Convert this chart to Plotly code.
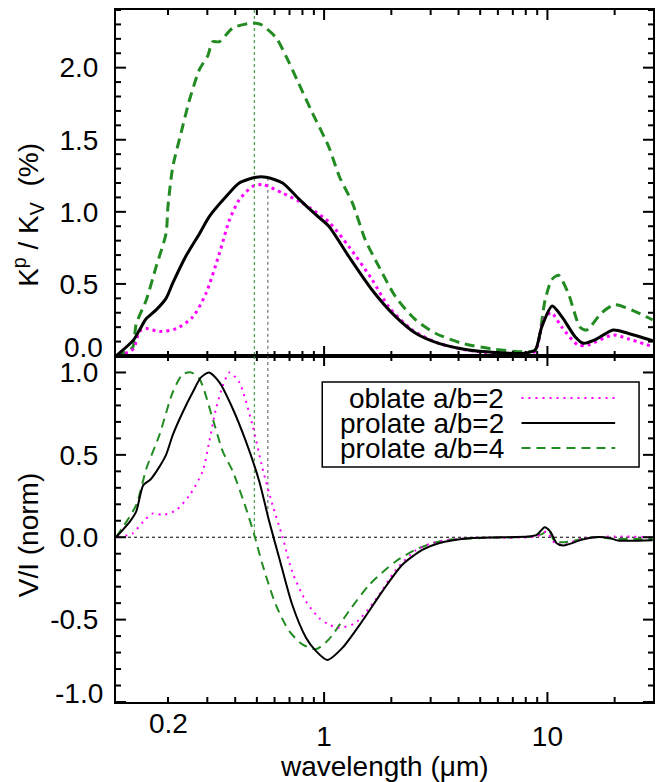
import math
import plotly.graph_objects as go

# ---------------- data ----------------
top_oblate2_lam = [0.12, 0.14, 0.149, 0.16, 0.183, 0.218, 0.258, 0.296, 0.34, 0.377, 0.417, 0.478, 0.53,
                   0.652, 0.80, 1.05, 1.29, 1.64, 1.95, 2.48, 3.26, 4.4, 5.84, 7.67, 8.8, 9.6, 10.4, 11.6,
                   13.7, 15.2, 19.7, 22.9, 29.6]
top_oblate2_val = [0.0, 0.05, 0.17, 0.19, 0.17, 0.19, 0.27, 0.435, 0.713, 0.944, 1.083, 1.176, 1.19,
                   1.13, 1.06, 0.93, 0.76, 0.53, 0.34, 0.18, 0.088, 0.04, 0.02, 0.018, 0.03, 0.25, 0.30, 0.20,
                   0.076, 0.076, 0.146, 0.12, 0.065]

top_prolate2_lam = [0.117, 0.14, 0.149, 0.16, 0.177, 0.196, 0.21, 0.24, 0.277, 0.306, 0.364, 0.417, 0.496,
                    0.55, 0.652, 0.77, 0.918, 1.05, 1.29, 1.64, 2.09, 2.57, 3.26, 4.44, 5.84, 7.67, 8.8,
                    9.42, 10.5, 11.6, 13.3, 14.5, 16.3, 19.7, 22.9, 29.6]
top_prolate2_val = [0.0, 0.11, 0.18, 0.26, 0.32, 0.40, 0.505, 0.69, 0.85, 0.967, 1.106, 1.20, 1.24,
                    1.24, 1.20, 1.09, 0.98, 0.90, 0.69, 0.458, 0.273, 0.158, 0.088, 0.042, 0.025, 0.018, 0.04,
                    0.20, 0.347, 0.273, 0.134, 0.088, 0.111, 0.18, 0.158, 0.106]

top_prolate4_lam = [0.117, 0.13, 0.139, 0.144, 0.16, 0.177, 0.196, 0.20, 0.21, 0.229, 0.25, 0.277, 0.301,
                    0.317, 0.34, 0.39, 0.478, 0.52, 0.608, 0.675, 0.77, 0.887, 1.05, 1.17, 1.34, 1.53, 1.76,
                    2.09, 2.57, 3.15, 4.14, 5.84, 7.67, 8.8, 9.77, 10.46, 11.2, 12.4, 14.0, 15.0, 17.5, 20.0,
                    24.6, 29.6]
top_prolate4_val = [0.0, 0.03, 0.06, 0.22, 0.39, 0.62, 0.85, 1.04, 1.31, 1.55, 1.78, 1.99, 2.08,
                    2.18, 2.18, 2.275, 2.31, 2.30, 2.21, 2.08, 1.89, 1.685, 1.45, 1.245, 1.06, 0.805, 0.62,
                    0.41, 0.25, 0.158, 0.088, 0.046, 0.03, 0.04, 0.39, 0.53, 0.56, 0.435, 0.20, 0.18, 0.30, 0.355,
                    0.31, 0.25]

bot_oblate2_lam = [0.12, 0.139, 0.155, 0.171, 0.19, 0.218, 0.25, 0.286, 0.306, 0.328, 0.352, 0.377, 0.417,
                   0.478, 0.53, 0.588, 0.652, 0.72, 0.83, 0.95, 1.05, 1.17, 1.38, 1.70, 2.09, 2.57, 3.15,
                   4.5, 9.0, 9.9, 10.8, 11.97, 14.0, 20.0, 29.6]
bot_oblate2_val = [0.0, 0.024, 0.095, 0.145, 0.135, 0.165, 0.256, 0.40, 0.58, 0.78, 0.92, 1.0, 0.94,
                   0.68, 0.417, 0.195, 0.0, -0.21, -0.39, -0.49, -0.53, -0.55, -0.52, -0.38, -0.2, -0.08, -0.03,
                   -0.005, 0.005, 0.034, -0.036, -0.045, -0.01, 0.005, 0.0]

bot_prolate2_lam = [0.117, 0.135, 0.144, 0.155, 0.166, 0.177, 0.196, 0.21, 0.233, 0.258, 0.281, 0.305, 0.34,
                    0.39, 0.447, 0.513, 0.568, 0.63, 0.72, 0.83, 0.918, 1.035, 1.21, 1.48, 1.82, 2.24, 2.75,
                    3.26, 4.44, 8.2, 8.95, 9.73, 10.3, 11.0, 11.8, 14.2, 16.3, 19.0, 20.7, 29.6]
bot_prolate2_val = [0.0, 0.095, 0.155, 0.316, 0.347, 0.397, 0.50, 0.62, 0.76, 0.88, 0.97, 1.0, 0.94,
                    0.78, 0.58, 0.337, 0.095, -0.127, -0.41, -0.61, -0.69, -0.745, -0.67, -0.51, -0.33, -0.167, -0.077,
                    -0.036, -0.006, 0.004, 0.014, 0.06, 0.034, -0.036, -0.05, -0.016, 0.0, -0.005, -0.02, -0.018]

bot_prolate4_lam = [0.117, 0.144, 0.16, 0.183, 0.21, 0.233, 0.254, 0.277, 0.317, 0.352, 0.39, 0.447, 0.487,
                    0.53, 0.608, 0.698, 0.80, 0.918, 1.05, 1.29, 1.59, 2.09, 2.65, 3.4, 5.0, 8.5, 9.5, 10.1,
                    10.8, 12.0, 16.0, 20.0, 29.6]
bot_prolate4_val = [0.0, 0.195, 0.417, 0.62, 0.88, 0.99, 1.0, 0.96, 0.72, 0.52, 0.40, 0.175, 0.014,
                    -0.167, -0.41, -0.57, -0.65, -0.68, -0.62, -0.45, -0.29, -0.147, -0.067, -0.02, -0.005, 0.005, 0.02, 0.044,
                    -0.026, -0.03, 0.0, -0.01, -0.01]

vline_lam = [0.487, 0.56]
vline_top = [2.4, 1.236]
vline_bot = [0.0, 0.145]

legend_labels = ["oblate a/b=2", "prolate a/b=2", "prolate a/b=4"]

x_range = [0.117, 29.7]
y_top_range = [0.0, 2.4]
y_bot_range = [-1.0, 1.1]
x_major_ticks = [1, 10]
x_minor_ticks = [0.2, 0.3, 0.4, 0.5, 0.6, 0.7, 0.8, 0.9, 2, 3, 4, 5, 6, 7, 8, 9, 20]

MAG = "#ff00ff"
GRN = "#228b22"
BLK = "black"
FONT = "Liberation Sans, Arial, Helvetica, sans-serif"
FS = 28

fig = go.Figure()

def add_line(x, y, xa, ya, color, width, dash="solid", shape="spline"):
    fig.add_trace(go.Scatter(x=x, y=y, xaxis=xa, yaxis=ya, mode="lines",
                             line=dict(color=color, width=width, dash=dash, shape=shape, smoothing=0.7),
                             showlegend=False, hoverinfo="skip"))

add_line(x_range, [0, 0], "x2", "y2", BLK, 1, "dot", "linear")

vcolors = [GRN, "#555555"]
for lam, yt, yb, c in zip(vline_lam, vline_top, vline_bot, vcolors):
    add_line([lam, lam], [yt, y_top_range[0]], "x", "y", c, 1, "dot", "linear")
    add_line([lam, lam], [y_bot_range[1], yb], "x2", "y2", c, 1, "dot", "linear")

add_line(top_prolate4_lam, top_prolate4_val, "x", "y", GRN, 3, "10px,6px")
add_line(top_oblate2_lam, top_oblate2_val, "x", "y", MAG, 3, "3px,4px")
add_line(top_prolate2_lam, top_prolate2_val, "x", "y", BLK, 3)

add_line(bot_prolate4_lam, bot_prolate4_val, "x2", "y2", GRN, 2, "9px,6px")
add_line(bot_oblate2_lam, bot_oblate2_val, "x2", "y2", MAG, 2, "2px,5px")
add_line(bot_prolate2_lam, bot_prolate2_val, "x2", "y2", BLK, 2)

lx = [math.log10(v) for v in x_range]


def xax(**kw):
    d = dict(type="log", range=lx, ticks="", showline=True, mirror=True,
             linecolor=BLK, linewidth=2, tick0=0, dtick=1,
             showgrid=False, domain=[0, 1])
    d.update(kw)
    return d


def yax(**kw):
    d = dict(ticks="", showline=True, mirror=True, linecolor=BLK, linewidth=2,
             showgrid=False, zerolinecolor="rgba(0,0,0,0)",
             tick0=0, dtick=0.5, tickformat=".1f", ticklabelstandoff=10)
    d.update(kw)
    return d


fig.update_layout(
    width=656, height=782,
    margin=dict(l=116, r=1, t=10, b=80),
    paper_bgcolor="white", plot_bgcolor="white",
    font=dict(family=FONT, size=FS, color="black"),
    showlegend=False,
    xaxis=xax(anchor="y", showticklabels=False),
    xaxis2=xax(anchor="y2", matches="x", ticklabelstandoff=8),
    yaxis=yax(domain=[0.5, 1], anchor="x", range=y_top_range,
              labelalias={"0.0": " "}),
    yaxis2=yax(domain=[0, 0.5], anchor="x2", range=y_bot_range,
               labelalias={"\u22121.0": " ", "-1.0": " ", "\u22120.5": "-0.5"}),
)

shapes = []
TL_MAJ, TL_MIN = 10, 5


def tick(xref, yref, x, y, horizontal, length, anchor_side):
    """A tick mark drawn in pixel units from an axis edge (axis domain coordinates)."""
    if horizontal:  # y-axis tick: x from the left/right edge, at data y
        shapes.append(dict(type="line", xref=xref + " domain", yref=yref, xsizemode="pixel",
                           xanchor=anchor_side, x0=0, x1=length if anchor_side == 0 else -length,
                           y0=y, y1=y, line=dict(color=BLK, width=2), layer="above"))
    else:  # x-axis tick at domain fraction x, from the bottom/top edge
        shapes.append(dict(type="line", xref=xref + " domain", yref=yref + " domain", ysizemode="pixel",
                           yanchor=anchor_side, y0=0, y1=length if anchor_side == 0 else -length,
                           x0=x, x1=x, line=dict(color=BLK, width=2), layer="above"))


# y-axis ticks (every 0.1, major every 0.5), both sides
for yref, (lo, hi) in (("y", y_top_range), ("y2", y_bot_range)):
    n0, n1 = int(round(lo * 10)), int(round(hi * 10))
    for k in range(n0, n1 + 1):
        v = k / 10
        ln = TL_MAJ if k % 5 == 0 else TL_MIN
        xr = "x" if yref == "y" else "x2"
        tick(xr, yref, None, v, True, ln, 0)
        tick(xr, yref, None, v, True, ln, 1)

# x-axis ticks (log scale), on all four horizontal edges
def xfrac(v):
    return (math.log10(v) - lx[0]) / (lx[1] - lx[0])

for xr, yr in (("x", "y"), ("x2", "y2")):
    for vals, ln in ((x_major_ticks, TL_MAJ), (x_minor_ticks, TL_MIN)):
        for v in vals:
            tick(xr, yr, xfrac(v), None, False, ln, 0)
            tick(xr, yr, xfrac(v), None, False, ln, 1)

ann = []
ann.append(dict(text="0.0", xref="paper", x=0, xanchor="right", xshift=-11, yref="y", y=y_top_range[0],
                yanchor="middle", yshift=9, showarrow=False, font=dict(size=FS)))
ann.append(dict(text="-1.0", xref="paper", x=0, xanchor="right", xshift=-11, yref="y2", y=y_bot_range[0],
                yanchor="middle", yshift=9, showarrow=False, font=dict(size=FS)))
ann.append(dict(text="0.2", xref="x2", x=math.log10(0.2), xanchor="center", yref="paper", y=0,
                yanchor="top", yshift=-4, showarrow=False, font=dict(size=FS)))
ann.append(dict(text="K<sup>p</sup> / K<sub>V</sub>  (%)", xref="paper", x=0, xshift=-88, xanchor="center",
                yref="paper", y=0.704, yanchor="middle", textangle=-90, showarrow=False, font=dict(size=FS)))
ann.append(dict(text="V/I (norm)", xref="paper", x=0, xshift=-88, xanchor="center",
                yref="paper", y=0.241, yanchor="middle", textangle=-90, showarrow=False, font=dict(size=FS)))
ann.append(dict(text="wavelength (\u03bcm)", xref="paper", x=0.5, xanchor="center",
                yref="paper", y=0, yanchor="middle", yshift=-64, showarrow=False, font=dict(size=FS)))

def px_to_paper_x(px):
    return (px - 116) / (655 - 116)

def px_to_paper_y(py):
    return (702 - py) / (702 - 10)

shapes.append(dict(type="rect", xref="paper", yref="paper",
                   x0=px_to_paper_x(323), x1=px_to_paper_x(641),
                   y0=px_to_paper_y(467), y1=px_to_paper_y(382),
                   line=dict(color=BLK, width=1.5), fillcolor="white", layer="above"))
rows_y = [398, 423, 448]
styles = [(MAG, "2px,5px"), (BLK, "solid"), (GRN, "9px,6px")]
for lab, ry, (c, d) in zip(legend_labels, rows_y, styles):
    ann.append(dict(text=lab, xref="paper", x=px_to_paper_x(507), xanchor="right",
                    yref="paper", y=px_to_paper_y(ry), yanchor="middle", showarrow=False,
                    font=dict(size=FS)))
    shapes.append(dict(type="line", xref="paper", yref="paper",
                       x0=px_to_paper_x(523), x1=px_to_paper_x(617),
                       y0=px_to_paper_y(ry), y1=px_to_paper_y(ry),
                       line=dict(color=c, width=2, dash=d), layer="above"))

fig.update_layout(annotations=ann, shapes=shapes)
fig.write_html("out.html")
